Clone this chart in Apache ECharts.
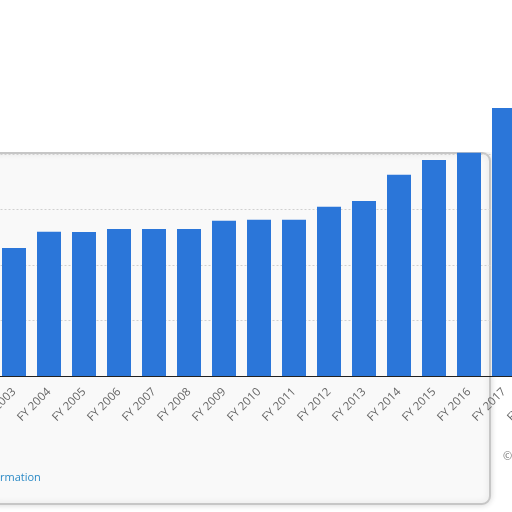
<!DOCTYPE html>
<html>
<head>
<meta charset="utf-8">
<script src="https://cdn.jsdelivr.net/npm/echarts@6/dist/echarts.min.js"></script>
<style>
  html, body { margin: 0; padding: 0; background: #fff; }
  #chart1 { width: 512px; height: 512px; }
</style>
</head>
<body>
<div id="chart1"></div>
<script>
var years = ['FY 2003', 'FY 2004', 'FY 2005', 'FY 2006', 'FY 2007', 'FY 2008', 'FY 2009', 'FY 2010',
	'FY 2011', 'FY 2012', 'FY 2013', 'FY 2014', 'FY 2015', 'FY 2016', 'FY 2017', 'FY 2018'];
// FY 2018 bar is cut off by the crop, only its label shows
var values = [115.3, 130, 129.7, 132.4, 132.4, 132.4, 139.9, 140.8,
	140.8, 152.5, 157.7, 181.4, 194.6, 201.2, 241.4, null];
var yTicks = [0, 50, 100, 150, 200, 250];

var chart1 = echarts.init(document.getElementById('chart1'));

var option = {
	backgroundColor: '#ffffff',
	animation: false,
	grid: {
		left: -3.5,
		right: -44.5,
		top: 98.5,
		bottom: 136,
		containLabel: false,
		outerBoundsMode: 'none'
	},
	xAxis: {
		type: 'category',
		data: years,
		z: 4,
		axisLine: {
			lineStyle: {
				color: '#222',
				width: 1
			}
		},
		axisTick: {
			show: false
		},
		axisLabel: {
			interval: 0,
			rotate: 45,
			margin: 14,
			color: '#666',
			fontSize: 11.5,
			fontFamily: 'Open Sans'
		}
	},
	yAxis: {
		type: 'value',
		min: yTicks[0],
		max: yTicks[yTicks.length - 1],
		interval: yTicks[1] - yTicks[0],
		z: 1,
		axisLabel: {
			show: false
		},
		axisLine: {
			show: false
		},
		splitLine: {
			lineStyle: {
				type: [2, 2],
				color: '#d0d0d0'
			}
		}
	},
	graphic: [
		{
			// grey panel behind the plot
			type: 'rect',
			z: 0,
			shape: { x: -10, y: 153, width: 500, height: 351, r: 8 },
			style: {
				fill: '#f9f9f9',
				stroke: '#c6c6c6',
				lineWidth: 2,
				shadowBlur: 6,
				shadowColor: 'rgba(0,0,0,0.15)'
			}
		},
		{
			// white area above the panel
			type: 'rect',
			z: 2,
			shape: { x: 0, y: 0, width: 512, height: 152 },
			style: { fill: '#ffffff' }
		},
		{
			type: 'text',
			z: 5,
			left: 0,
			top: 472,
			style: {
				text: 'rmation',
				fill: '#2b8ac6',
				fontSize: 11,
				fontFamily: 'Open Sans'
			}
		},
		{
			type: 'text',
			z: 5,
			left: 503,
			top: 451,
			style: {
				text: '©',
				fill: '#777',
				fontSize: 11,
				fontFamily: 'Open Sans'
			}
		}
	],
	series: [{
		type: 'bar',
		data: values,
		barWidth: 24,
		z: 3,
		itemStyle: {
			color: '#2b76d9'
		}
	}]
};

chart1.setOption(option);
</script>
</body>
</html>
